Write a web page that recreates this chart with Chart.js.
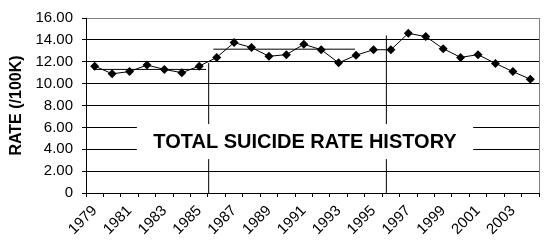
<!DOCTYPE html>
<html>
<head>
<meta charset="utf-8">
<script src="https://cdn.jsdelivr.net/npm/chart.js@4/dist/chart.umd.min.js"></script>
<style>
  html, body { margin: 0; padding: 0; background: #fff; }
  #wrap { width: 551px; height: 249px; }
</style>
</head>
<body>
<div id="wrap"><canvas id="c" width="551" height="249"></canvas></div>
<script>
// ---- data ----
const years = ['1979','1980','1981','1982','1983','1984','1985','1986','1987','1988','1989','1990','1991',
               '1992','1993','1994','1995','1996','1997','1998','1999','2000','2001','2002','2003','2004'];
const rates = [11.6, 10.9, 11.1, 11.7, 11.3, 11.0, 11.6, 12.4, 13.75, 13.3, 12.5, 12.65, 13.6,
               13.1, 11.9, 12.6, 13.1, 13.1, 14.6, 14.3, 13.2, 12.4, 12.65, 11.85, 11.1, 10.4];
const yTicks = [0, 2, 4, 6, 8, 10, 12, 14, 16];
// period average segments (year positions, rate)
const avgStart = [1978.92, 1985.81];
const avgEnd   = [1985.39, 1993.94];
const avgRate  = [11.3, 13.15];
// period divider lines (year position, top rate)
const dividerYear = [1985.54, 1995.74];
const dividerTop  = [11.9, 14.4];
const chartTitle = 'TOTAL SUICIDE RATE HISTORY';
const yTitle = 'RATE (/100K)';

const FONT = '"Liberation Sans", Arial, sans-serif';

const extraSets = [];
avgRate.forEach((r, i) => {
  extraSets.push({
    xAxisID: 'x2', data: [{x: avgStart[i], y: r}, {x: avgEnd[i], y: r}],
    borderColor: '#000', borderWidth: 1, pointRadius: 0, fill: false, order: 2
  });
});
dividerYear.forEach((yr, i) => {
  extraSets.push({
    xAxisID: 'x2', data: [{x: yr, y: 0}, {x: yr, y: dividerTop[i]}],
    borderColor: '#000', borderWidth: 1, pointRadius: 0, fill: false, order: 2
  });
});

const titleBox = {
  id: 'titleBox',
  afterDatasetsDraw(chart) {
    const ctx = chart.ctx;
    const xs = chart.scales.x2, ys = chart.scales.y;
    const x0 = xs.getPixelForValue(1981.42), x1 = xs.getPixelForValue(2000.72);
    const y0 = ys.getPixelForValue(6.3), y1 = ys.getPixelForValue(3.1);
    ctx.save();
    ctx.fillStyle = '#fff';
    ctx.fillRect(x0, y0, x1 - x0, y1 - y0);
    ctx.fillStyle = '#000';
    ctx.font = 'bold 20px ' + FONT;
    ctx.textAlign = 'center';
    ctx.textBaseline = 'middle';
    ctx.fillText(chartTitle, (x0 + x1) / 2, ys.getPixelForValue(4.75) + 1);
    ctx.restore();
  },
  afterDraw(chart) {
    const ctx = chart.ctx, a = chart.chartArea;
    ctx.save();
    ctx.strokeStyle = '#808080';
    ctx.lineWidth = 1;
    ctx.beginPath();
    ctx.moveTo(Math.round(a.right) + 0.5, a.top);
    ctx.lineTo(Math.round(a.right) + 0.5, a.bottom);
    ctx.stroke();
    ctx.restore();
  }
};

new Chart(document.getElementById('c'), {
  type: 'line',
  data: {
    labels: years,
    datasets: [{
      data: rates, xAxisID: 'x',
      borderColor: '#000', borderWidth: 1,
      pointStyle: 'rectRot', pointRadius: 4.5,
      pointBackgroundColor: '#000', pointBorderColor: '#000', pointBorderWidth: 0,
      fill: false, tension: 0, order: 1
    }, ...extraSets]
  },
  options: {
    responsive: false, animation: false,
    layout: { padding: { top: 15, right: 12, left: 0, bottom: 0 } },
    plugins: { legend: { display: false }, tooltip: { enabled: false } },
    scales: {
      x: {
        type: 'category', offset: true,
        grid: { offset: true, drawOnChartArea: false, drawTicks: true, tickLength: 4, color: '#000' },
        border: { color: '#000' },
        ticks: {
          autoSkip: false, maxRotation: 45, minRotation: 45, padding: 5,
          color: '#000', font: { family: FONT, size: 15 },
          callback: (v, i) => (i % 2 === 0 ? years[i] : '')
        },
        afterFit: s => { s.height = 56; }
      },
      x2: { type: 'linear', display: false, min: 1978.5, max: 2004.5 },
      y: {
        min: 0, max: 16,
        afterBuildTicks: s => { s.ticks = yTicks.map(v => ({ value: v })); },
        grid: {
          color: c => (c.tick && c.tick.value === 16 ? '#808080' : '#000'),
          tickColor: '#000', tickLength: 4
        },
        border: { color: '#000' },
        ticks: {
          padding: 9, color: '#000', font: { family: FONT, size: 15 },
          callback: v => (v === 0 ? '0' : v.toFixed(2))
        },
        title: {
          display: true, text: yTitle, color: '#000',
          font: { family: FONT, size: 16, weight: 'bold' }, padding: { top: 7, bottom: 0 }
        },
        afterFit: s => { s.width = 86; }
      }
    }
  },
  plugins: [titleBox]
});
</script>
</body>
</html>
